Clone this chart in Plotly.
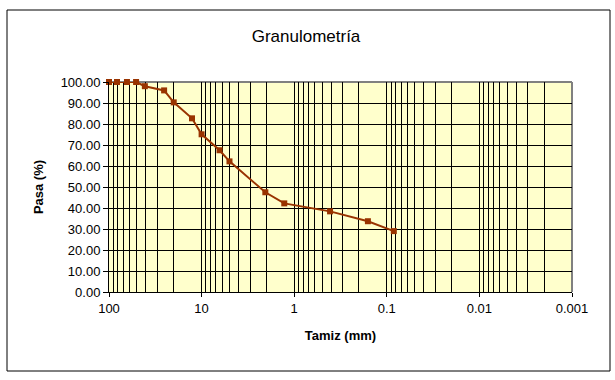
import plotly.graph_objects as go

# Data
tamiz_mm = [100, 82, 64, 51, 41, 25.4, 20, 12.7, 10, 6.4, 5.0, 2.05, 1.28, 0.41, 0.16, 0.084]
pasa_pct = [100, 100, 100, 100, 98, 96, 90.3, 82.7, 75.1, 67.5, 62.2, 47.5, 42.2, 38.4, 33.7, 29.0]

x_tick_vals = [100, 10, 1, 0.1, 0.01, 0.001]
x_tick_text = ["100", "10", "1", "0.1", "0.01", "0.001"]
y_tick_vals = [0, 10, 20, 30, 40, 50, 60, 70, 80, 90, 100]

minor_vals = [m * 10.0 ** e for e in range(-3, 2) for m in range(2, 10)]

W, H = 615, 380
L, R, T, B = 109, 572, 82, 292
pw, ph = R - L, B - T

fig = go.Figure()
fig.add_trace(go.Scatter(
    x=tamiz_mm, y=pasa_pct, mode="lines+markers",
    line=dict(color="#993300", width=2),
    marker=dict(symbol="square", size=6, color="#993300"),
    cliponaxis=False, showlegend=False,
))

font = "Liberation Sans, Arial, sans-serif"

fig.update_layout(
    width=W, height=H,
    margin=dict(l=L, r=W - R, t=T, b=H - B, pad=0),
    paper_bgcolor="white",
    plot_bgcolor="#FFFFCC",
    font=dict(family=font, size=12, color="black"),
    title=dict(text="Granulometría", x=306 / W, xanchor="center",
               y=1 - 36 / H, yanchor="middle",
               font=dict(family=font, size=17, color="black")),
    xaxis=dict(
        type="log", range=[2, -3],
        tickvals=x_tick_vals, ticktext=x_tick_text,
        showgrid=True, gridcolor="black", gridwidth=1,
        minor=dict(tickvals=minor_vals, showgrid=True, gridcolor="black",
                   gridwidth=1, ticks=""),
        showline=True, linecolor="black", linewidth=1,
        ticks="outside", ticklen=4, tickcolor="black",
        tickfont=dict(size=13),
        title=dict(text="<b>Tamiz (mm)</b>", font=dict(size=13), standoff=16),
        zeroline=False,
    ),
    yaxis=dict(
        range=[0, 100],
        tickvals=y_tick_vals, tickformat=".2f",
        showgrid=True, gridcolor="black", gridwidth=1,
        showline=True, linecolor="black", linewidth=1,
        ticks="outside", ticklen=5, tickcolor="black",
        tickfont=dict(size=13),
        title=dict(text="<b>Pasa (%)</b>", font=dict(size=13), standoff=14),
        zeroline=False,
    ),
    shapes=[
        # plot-area border (gray, top & right visible)
        dict(type="line", xref="paper", yref="paper", x0=0, x1=1, y0=1, y1=1,
             line=dict(color="#808080", width=2), layer="between"),
        dict(type="line", xref="paper", yref="paper", x0=1, x1=1, y0=0, y1=1,
             line=dict(color="#808080", width=2), layer="between"),
        # outer chart border
        dict(type="rect", xref="paper", yref="paper",
             x0=(7 - L) / pw, x1=(610 - L) / pw,
             y0=(B - 371) / ph, y1=(B - 10) / ph,
             line=dict(color="black", width=1), fillcolor="rgba(0,0,0,0)",
             layer="below"),
    ],
)

fig.write_html("out.html", config={"displayModeBar": False},
               post_script="document.body.style.margin='0';")
